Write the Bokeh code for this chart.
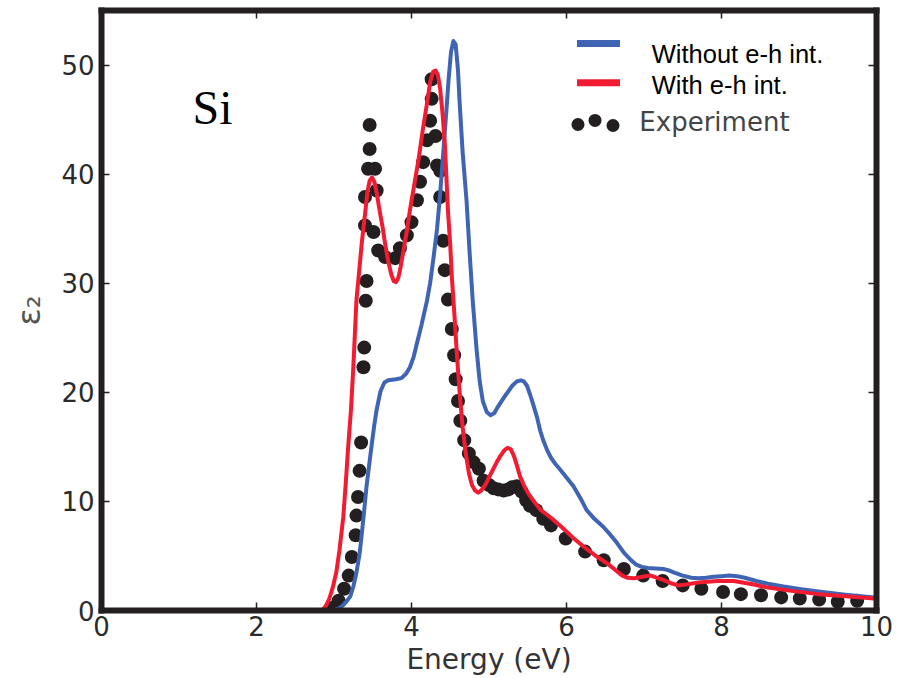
from bokeh.plotting import figure
from bokeh.models import LinearAxis, Range1d, Label, FixedTicker
from bokeh.embed import file_html
from bokeh.resources import INLINE

# Si imaginary dielectric function, epsilon_2 vs photon energy (eV)

# Calculation without electron-hole interaction: (energy, eps2)
without_eh = [
    (2.5, 0.0), (3.0, 0.05), (3.08, 0.25), (3.12, 0.5), (3.17, 0.9), (3.21, 1.3),
    (3.25, 2.2), (3.29, 3.5), (3.33, 5.2), (3.36, 7.1), (3.39, 9.2), (3.42, 11.4),
    (3.46, 13.7), (3.49, 15.4), (3.52, 17.0), (3.55, 18.4), (3.6, 20.1), (3.65, 20.9),
    (3.7, 21.1), (3.8, 21.2), (3.87, 21.3), (3.93, 21.7), (3.98, 22.3), (4.03, 23.3),
    (4.07, 24.5), (4.13, 26.2), (4.2, 28.4), (4.24, 30.0), (4.28, 32.1), (4.33, 35.0),
    (4.37, 38.2), (4.41, 42.0), (4.45, 45.8), (4.48, 48.8), (4.51, 51.2), (4.54, 52.2),
    (4.57, 51.9), (4.6, 49.5), (4.62, 46.7), (4.66, 42.0), (4.71, 37.6), (4.75, 32.8),
    (4.79, 28.4), (4.84, 23.9), (4.88, 21.0), (4.92, 19.2), (4.97, 18.2), (5.02, 17.9),
    (5.07, 18.1), (5.1, 18.5), (5.2, 19.6), (5.3, 20.6), (5.36, 21.0), (5.41, 21.1),
    (5.45, 21.0), (5.49, 20.6), (5.53, 19.8), (5.57, 18.9), (5.62, 17.7), (5.66, 16.5),
    (5.7, 15.6), (5.75, 14.7), (5.8, 14.0), (5.86, 13.4), (5.92, 12.9), (6.0, 12.2),
    (6.09, 11.4), (6.18, 10.3), (6.26, 9.2), (6.36, 8.4), (6.47, 7.7), (6.56, 7.0),
    (6.65, 6.2), (6.74, 5.3), (6.82, 4.7), (6.9, 4.2), (6.97, 4.0), (7.05, 3.9),
    (7.15, 3.85), (7.25, 3.8), (7.31, 3.7), (7.4, 3.45), (7.5, 3.2), (7.61, 3.0),
    (7.7, 2.95), (7.8, 3.0), (7.9, 3.1), (8.0, 3.15), (8.1, 3.2), (8.2, 3.15),
    (8.3, 3.0), (8.45, 2.7), (8.6, 2.45), (8.8, 2.2), (9.03, 1.95), (9.3, 1.7),
    (9.6, 1.45), (9.97, 1.2),
]

# Calculation with electron-hole interaction: (energy, eps2)
with_eh = [
    (2.0, 0.0), (2.8, 0.0), (2.86, 0.1), (2.9, 0.5), (2.94, 1.1), (2.98, 2.0),
    (3.03, 3.5), (3.07, 5.5), (3.12, 8.6), (3.15, 11.5), (3.18, 14.7), (3.22, 18.5),
    (3.25, 22.4), (3.29, 28.5), (3.33, 31.5), (3.36, 33.8), (3.4, 36.3), (3.43, 38.3),
    (3.46, 39.4), (3.49, 39.7), (3.52, 39.3), (3.55, 38.3), (3.59, 36.6), (3.63, 35.0),
    (3.66, 33.6), (3.7, 32.0), (3.74, 30.8), (3.77, 30.2), (3.8, 30.1), (3.83, 30.5),
    (3.86, 31.5), (3.89, 32.7), (3.94, 34.8), (3.98, 36.7), (4.04, 39.2), (4.09, 41.3),
    (4.14, 43.8), (4.2, 46.5), (4.24, 48.4), (4.28, 49.4), (4.31, 49.5), (4.34, 49.1),
    (4.37, 47.8), (4.4, 45.6), (4.43, 42.8), (4.45, 39.8), (4.47, 36.7), (4.5, 33.5),
    (4.52, 30.6), (4.55, 27.5), (4.59, 23.0), (4.63, 19.2), (4.66, 16.8), (4.7, 14.4),
    (4.74, 12.6), (4.78, 11.5), (4.82, 11.0), (4.86, 10.8), (4.9, 11.0), (4.95, 11.5),
    (5.0, 12.2), (5.05, 12.9), (5.1, 13.6), (5.15, 14.2), (5.2, 14.7), (5.24, 14.9),
    (5.28, 14.8), (5.32, 14.2), (5.36, 13.3), (5.4, 12.3), (5.45, 11.5), (5.5, 10.8),
    (5.58, 10.0), (5.67, 9.2), (5.8, 8.5), (5.93, 7.7), (6.08, 6.7), (6.23, 5.8),
    (6.4, 4.9), (6.53, 4.3), (6.65, 3.6), (6.72, 3.2), (6.79, 3.0), (6.87, 2.95),
    (6.95, 3.05), (7.02, 3.15), (7.09, 3.2), (7.17, 3.0), (7.25, 2.8), (7.35, 2.5),
    (7.44, 2.3), (7.52, 2.35), (7.6, 2.45), (7.74, 2.6), (7.95, 2.7), (8.16, 2.7),
    (8.4, 2.4), (8.6, 2.1), (8.9, 1.8), (9.25, 1.5), (9.6, 1.3), (9.97, 1.1),
]

# Measured spectrum: (energy, eps2)
experiment = [
    (3.0, 0.3), (3.06, 0.9), (3.13, 2.0), (3.19, 3.2), (3.23, 4.9), (3.28, 6.9),
    (3.29, 8.7), (3.31, 10.4), (3.33, 12.8), (3.35, 15.4), (3.38, 22.3), (3.39, 24.1),
    (3.41, 28.4), (3.42, 30.2), (3.40, 35.3), (3.40, 37.9), (3.44, 40.5), (3.46, 42.3),
    (3.46, 44.5), (3.53, 40.5), (3.55, 38.5), (3.51, 34.7), (3.57, 33.0), (3.66, 32.4),
    (3.79, 32.3), (3.85, 33.2), (3.94, 34.4), (4.0, 35.6), (4.07, 37.6), (4.11, 39.3),
    (4.15, 41.1), (4.2, 43.1), (4.24, 44.9), (4.26, 46.9), (4.26, 48.7), (4.31, 43.5),
    (4.33, 40.8), (4.37, 40.3), (4.37, 37.9), (4.41, 33.9), (4.43, 31.2), (4.47, 28.5),
    (4.52, 25.8), (4.55, 23.4), (4.57, 21.2), (4.6, 19.2), (4.63, 17.4), (4.68, 15.6),
    (4.74, 14.4), (4.8, 13.6), (4.87, 13.0), (4.93, 11.9), (5.0, 11.5), (5.06, 11.2),
    (5.12, 11.1), (5.19, 11.0), (5.25, 11.1), (5.3, 11.3), (5.36, 11.4), (5.42, 10.9),
    (5.48, 10.1), (5.53, 9.6), (5.61, 9.2), (5.7, 8.4), (5.8, 7.8), (5.99, 6.6),
    (6.24, 5.4), (6.48, 4.6), (6.74, 3.8), (6.99, 3.2), (7.24, 2.7), (7.5, 2.3),
    (7.74, 2.0), (8.02, 1.7), (8.25, 1.5), (8.51, 1.4), (8.77, 1.2), (9.01, 1.1),
    (9.26, 1.0), (9.5, 0.8), (9.75, 0.9),
]

without_eh_energy, without_eh_eps2 = [list(c) for c in zip(*without_eh)]
with_eh_energy, with_eh_eps2 = [list(c) for c in zip(*with_eh)]
exp_energy, exp_eps2 = [list(c) for c in zip(*experiment)]

x_ticks = [0, 2, 4, 6, 8, 10]
y_ticks = [0, 10, 20, 30, 40, 50]

BLUE = "#3e64b3"
RED = "#f21c32"
DARK = "#231f20"

p = figure(width=902, height=678, x_range=Range1d(0, 10), y_range=Range1d(0, 55),
           output_backend="svg", toolbar_location=None,
           min_border_left=101, min_border_right=26, min_border_top=10, min_border_bottom=67)
p.outline_line_color = None
p.xgrid.visible = False
p.ygrid.visible = False
p.background_fill_color = "white"
p.border_fill_color = "white"

p.add_layout(LinearAxis(), "above")
p.add_layout(LinearAxis(), "right")


def style_axis(ax, ticks):
    ax.ticker = FixedTicker(ticks=ticks)
    ax.axis_line_width = 6
    ax.axis_line_color = DARK
    ax.axis_line_cap = "square"
    ax.major_tick_in = 8
    ax.major_tick_out = 0
    ax.major_tick_line_width = 1.5
    ax.major_tick_line_color = DARK
    ax.minor_tick_line_color = None
    ax.major_label_text_font = "DejaVu Sans"
    ax.major_label_text_font_size = "26px"
    ax.major_label_text_color = "#2a2a2a"


for ax in p.below + p.above:
    style_axis(ax, x_ticks)
for ax in p.left + p.right:
    style_axis(ax, y_ticks)

# top and right spines carry tick marks only
for ax in p.above + p.right:
    ax.major_label_text_font_size = "1px"
    ax.major_label_text_color = None
    ax.major_label_standoff = 0

xax = p.below[0]
xax.major_label_standoff = 5
xax.axis_label = "Energy (eV)"
xax.axis_label_standoff = 4
xax.axis_label_text_font = "DejaVu Sans"
xax.axis_label_text_font_size = "28px"
xax.axis_label_text_font_style = "normal"
xax.axis_label_text_color = "#333333"

yax = p.left[0]
yax.major_label_standoff = 7
yax.axis_label = "ε₂"
yax.axis_label_standoff = 10
yax.axis_label_text_font = "DejaVu Sans"
yax.axis_label_text_font_size = "32px"
yax.axis_label_text_font_style = "normal"
yax.axis_label_text_color = "#555555"

# data
p.scatter(exp_energy, exp_eps2, size=14, color=DARK, line_color=None)
p.line(without_eh_energy, without_eh_eps2, line_color=BLUE, line_width=4, line_join="round")
p.line(with_eh_energy, with_eh_eps2, line_color=RED, line_width=4, line_join="round")

# hand-made legend
p.segment(x0=[6.135], y0=[51.97], x1=[6.69], y1=[51.97], line_color=BLUE, line_width=7)
p.segment(x0=[6.135], y0=[48.37], x1=[6.69], y1=[48.37], line_color=RED, line_width=7)
p.scatter([6.148, 6.368, 6.60], [44.55, 44.92, 44.46], size=13, color=DARK, line_color=None)

p.add_layout(Label(x=7.1, y=51.0, text="Without e-h int.", text_font="Liberation Sans",
                   text_font_size="25.5px", text_color="black", text_baseline="alphabetic"))
p.add_layout(Label(x=7.1, y=48.2, text="With e-h int.", text_font="Liberation Sans",
                   text_font_size="25.5px", text_color="black", text_baseline="alphabetic"))
p.add_layout(Label(x=6.94, y=44.75, text="Experiment", text_font="DejaVu Sans",
                   text_font_size="26px", text_color="#444444", text_baseline="alphabetic"))

p.add_layout(Label(x=1.175, y=46.1, text="Si", text_font="Liberation Serif",
                   text_font_size="48px", text_color="black", text_baseline="alphabetic"))

open("out.html", "w").write(file_html(p, INLINE))
